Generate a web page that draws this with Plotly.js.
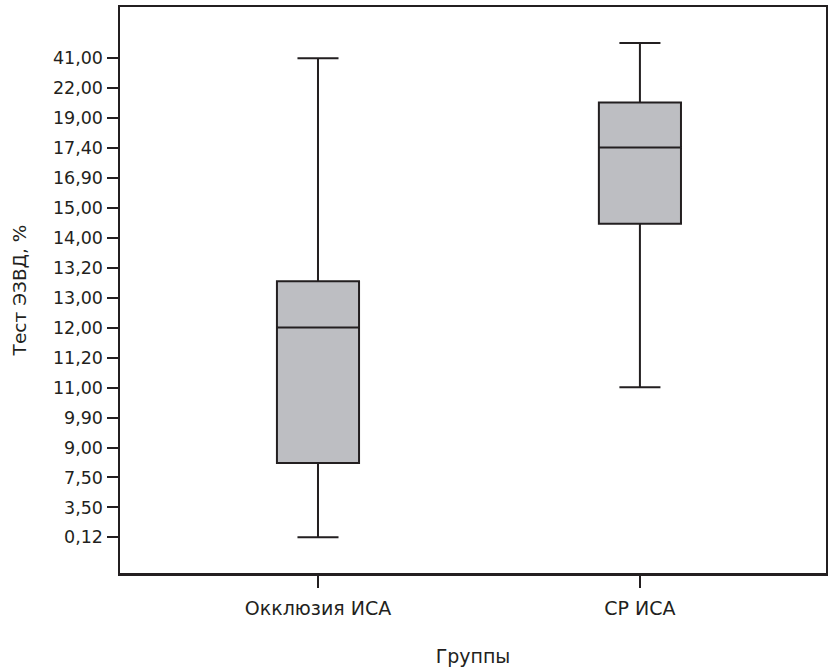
<!DOCTYPE html>
<html>
<head>
<meta charset="utf-8">
<script src="https://cdn.plot.ly/plotly-3.0.1.min.js"></script>
<style>html,body{margin:0;padding:0;background:#fff;}#chart{width:828px;height:667px;}</style>
</head>
<body>
<div id="chart"></div>
<script>
// Ordinal y-axis: tick labels are evenly spaced ranks
const yTickLabels = ["0,12","3,50","7,50","9,00","9,90","11,00","11,20","12,00","13,00","13,20","14,00","15,00","16,90","17,40","19,00","22,00","41,00"];
const groups = ["Окклюзия ИСА", "СР ИСА"];
// box statistics expressed in rank positions on the ordinal axis
const lowerFence = [0, 5.01];
const q1Values = [2.48, 10.47];
const medianValues = [7.01, 13.02];
const q3Values = [8.55, 14.52];
const upperFence = [16.0, 16.51];

const tickPositions = yTickLabels.map((_, i) => i);
const FONT = "DejaVu Sans, sans-serif";
const INK = "#231f20";

const trace = {
  type: "box",
  x: [0, 1],
  q1: q1Values,
  median: medianValues,
  q3: q3Values,
  lowerfence: lowerFence,
  upperfence: upperFence,
  width: 0.255,
  whiskerwidth: 0.5,
  fillcolor: "#bdbec2",
  line: {color: INK, width: 2},
  boxpoints: false,
  hoverinfo: "skip",
  showlegend: false
};

const layout = {
  width: 828, height: 667,
  margin: {l: 120, r: 2, t: 7, b: 94},
  paper_bgcolor: "#fff", plot_bgcolor: "#fff",
  font: {family: FONT, color: INK, size: 17},
  xaxis: {
    type: "linear",
    range: [-0.615, 1.578],
    tickvals: [0, 1], ticktext: groups,
    ticks: "outside", ticklen: 12, tickwidth: 2, tickcolor: INK,
    ticklabelstandoff: 5,
    showline: true, linecolor: INK, linewidth: 2.5, mirror: true,
    showgrid: false, zeroline: false,
    tickfont: {size: 19, family: FONT, color: INK},
    title: {text: "Группы", font: {size: 19, family: FONT, color: INK}, standoff: 34}
  },
  yaxis: {
    range: [-1.19, 17.71],
    tickvals: tickPositions, ticktext: yTickLabels,
    ticks: "outside", ticklen: 11, tickwidth: 2, tickcolor: INK,
    showline: true, linecolor: INK, linewidth: 2.5, mirror: true,
    showgrid: false, zeroline: false,
    tickfont: {size: 17.5, family: FONT, color: INK},
    title: {text: "Тест ЭЗВД, %", font: {size: 18.5, family: FONT, color: INK}, standoff: 22}
  }
};

Plotly.newPlot("chart", [trace], layout, {displayModeBar: false, staticPlot: true});
</script>
</body>
</html>
